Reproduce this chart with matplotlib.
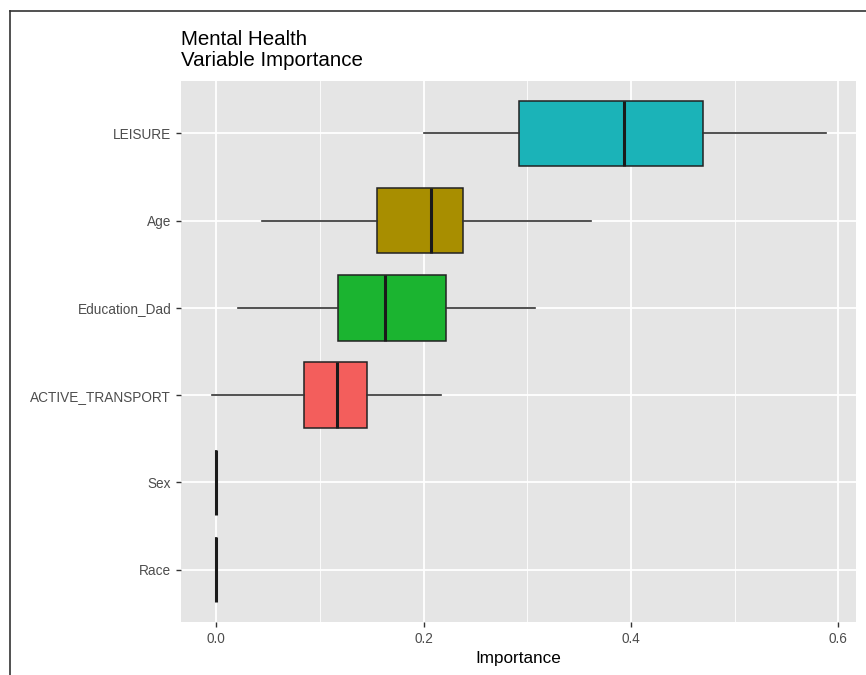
import matplotlib
matplotlib.use("Agg")
import matplotlib.pyplot as plt
from matplotlib.lines import Line2D

plt.rcParams['font.family'] = ['Liberation Sans', 'DejaVu Sans']

# variables, bottom to top
variables = ["Race", "Sex", "ACTIVE_TRANSPORT", "Education_Dad", "Age", "LEISURE"]
whislo = [0.0, 0.0, -0.004, 0.021, 0.044, 0.200]
q1 = [0.0, 0.0, 0.085, 0.117, 0.155, 0.292]
med = [0.0, 0.0, 0.116, 0.163, 0.207, 0.393]
q3 = [0.0, 0.0, 0.145, 0.222, 0.238, 0.469]
whishi = [0.0, 0.0, 0.217, 0.307, 0.361, 0.588]
fills = ["#F564E3", "#619CFF", "#F35E5C", "#1BB430", "#A88E00", "#1BB3B8"]

x_ticks = [0.0, 0.2, 0.4, 0.6]
x_minor = [0.1, 0.3, 0.5]

stats = []
for i in range(len(variables)):
    stats.append(dict(label=variables[i], whislo=whislo[i], q1=q1[i],
                      med=med[i], q3=q3[i], whishi=whishi[i], fliers=[]))

fig = plt.figure(figsize=(8.66, 6.75), dpi=100)
ax = fig.add_axes([181/866, 1 - 622/675, 675/866, 541/675])
ax.set_facecolor("#E5E5E5")

# grid drawn by hand so minor lines can be thinner
for xv in x_ticks:
    ax.axvline(xv, color="white", lw=1.3, zorder=0)
for xv in x_minor:
    ax.axvline(xv, color="white", lw=0.6, zorder=0)
pos = list(range(1, len(variables) + 1))
for p in pos:
    ax.axhline(p, color="white", lw=1.3, zorder=0)

bp = ax.bxp(stats, positions=pos, vert=False, widths=0.75, patch_artist=True,
            showcaps=False, showfliers=False,
            boxprops=dict(edgecolor="#222222", linewidth=1.1),
            whiskerprops=dict(color="#333333", linewidth=1.2),
            medianprops=dict(color="#1A1A1A", linewidth=2.2),
            zorder=2)
for patch, c in zip(bp['boxes'], fills):
    patch.set_facecolor(c)

ax.set_xlim(-0.034, 0.617)
ax.set_ylim(0.4, 6.6)
ax.set_xticks(x_ticks)
ax.set_xticklabels(["0.0", "0.2", "0.4", "0.6"])
ax.set_yticks(pos)
ax.set_yticklabels(variables)
ax.tick_params(axis='both', colors="#333333", labelcolor="#4D4D4D",
               labelsize=9.8, length=3.5, width=1.0)
for s in ax.spines.values():
    s.set_visible(False)

ax.set_xlabel("Importance", fontsize=12.3, color="black", labelpad=4)

fig.text(181/866, 1 - 30/675, "Mental Health\nVariable Importance",
         fontsize=14.8, ha='left', va='top', color="black", linespacing=1.12)

# outer frame (top and left edges)
fig.add_artist(Line2D([10/866, 1.0], [1 - 11/675, 1 - 11/675],
                      transform=fig.transFigure, color="#333333", lw=1.2))
fig.add_artist(Line2D([10/866, 10/866], [0.0, 1 - 11/675],
                      transform=fig.transFigure, color="#333333", lw=1.2))

fig.savefig("out.png", dpi=100)
